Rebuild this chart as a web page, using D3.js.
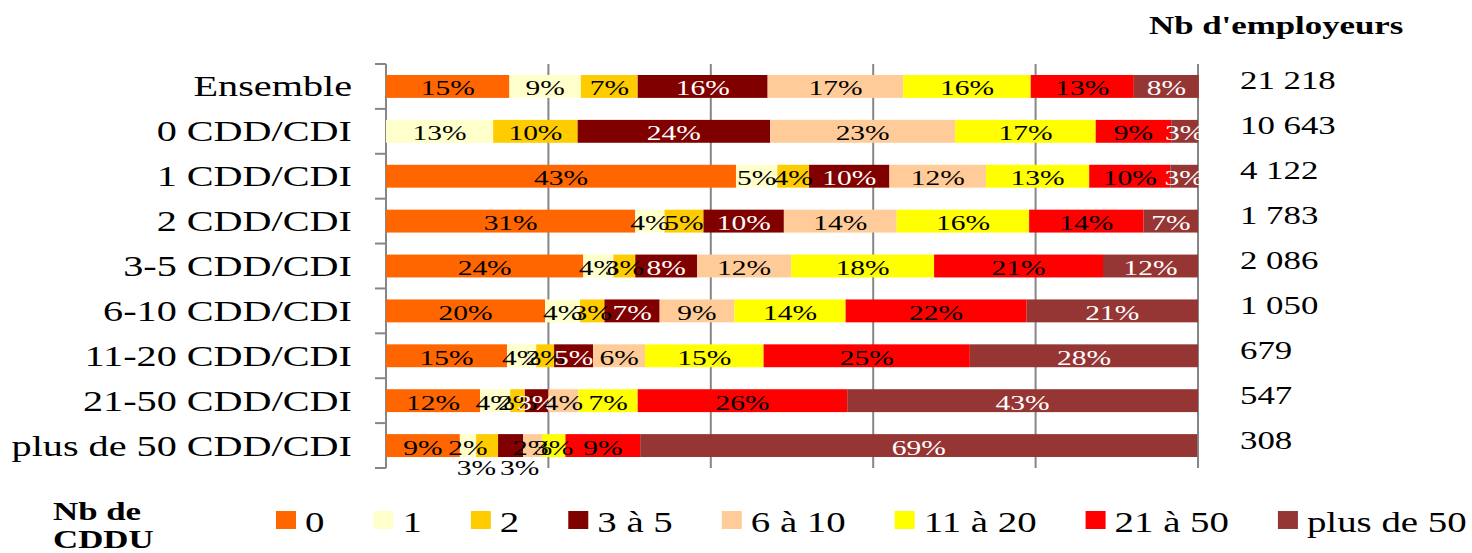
<!DOCTYPE html>
<html>
<head>
<meta charset="utf-8">
<script src="https://cdn.jsdelivr.net/npm/d3@7"></script>
<style>
  body { margin: 0; background: #fff; }
  svg { display: block; font-family: "Liberation Serif", "Times New Roman", serif; }
</style>
</head>
<body>
<div id="chart"></div>
<script>
// categories (rows) and the number of employers per row
const categories = ["Ensemble", "0 CDD/CDI", "1 CDD/CDI", "2 CDD/CDI", "3-5 CDD/CDI",
  "6-10 CDD/CDI", "11-20 CDD/CDI", "21-50 CDD/CDI", "plus de 50 CDD/CDI"];
const employers = ["21 218", "10 643", "4 122", "1 783", "2 086", "1 050", "679", "547", "308"];

// series = Nb de CDDU, shares in % for each row
const seriesNames = ["0", "1", "2", "3 à 5", "6 à 10", "11 à 20", "21 à 50", "plus de 50"];
const s0      = [15.2, 0,    43.1, 30.7, 24.3, 19.6, 14.9, 11.6, 9.1];
const s1      = [8.8,  13.2, 5.1,  3.6,  3.7,  4.3,  3.6,  3.7,  2.0];
const s2      = [7.0,  10.4, 3.9,  4.8,  2.7,  3.0,  2.2,  1.8,  2.7];
const s3to5   = [16.0, 23.7, 9.9,  9.9,  7.6,  6.8,  4.8,  2.9,  3.1];
const s6to10  = [16.7, 22.8, 11.9, 13.9, 11.6, 9.2,  6.4,  3.7,  2.3];
const s11to20 = [15.7, 17.3, 12.7, 16.3, 17.6, 13.7, 14.6, 7.3,  2.9];
const s21to50 = [12.7, 9.3,  10.0, 14.1, 20.8, 22.3, 25.4, 25.8, 9.2];
const sOver50 = [8.0,  3.3,  3.4,  6.7,  11.7, 21.1, 28.1, 43.2, 68.6];
const seriesValues = [s0, s1, s2, s3to5, s6to10, s11to20, s21to50, sOver50];

const colors = ["#FF6600", "#FFFFCC", "#FFCC00", "#800000", "#FFCC99", "#FFFF00", "#FF0000", "#963634"];
const whiteText = ["3 à 5", "plus de 50"];
// labels that sit under the bar in the original: "end" hangs left of the segment's right edge,
// "start" hangs right of the segment's left edge
const labelsBelow = { "plus de 50 CDD/CDI|2": "end", "plus de 50 CDD/CDI|3 à 5": "start" };

const width = 1472, height = 553;
const sx = 1.34; // the original image is stretched horizontally

const svg = d3.select("#chart").append("svg")
  .attr("width", width)
  .attr("height", height);

const rows = categories.map((c, i) => {
  const r = { cat: c };
  seriesNames.forEach((s, j) => r[s] = seriesValues[j][i]);
  return r;
});
const stacked = d3.stack().keys(seriesNames)(rows);

const x = d3.scaleLinear().domain([0, 100]).range([386, 1198]);
const y = d3.scaleBand().domain(categories).range([64, 468])
  .paddingInner(0.49).paddingOuter(0.245);

const color = d3.scaleOrdinal(seriesNames, colors);

function stretch(sel) {
  sel.attr("transform", function () {
    const t = d3.select(this);
    return `translate(${t.attr("data-x")},${t.attr("data-y")}) scale(${sx},1)`;
  });
}

// vertical gridlines
svg.append("g")
  .selectAll("line")
  .data(x.ticks(5).filter(d => d > 0))
  .join("line")
  .attr("x1", d => x(d)).attr("x2", d => x(d))
  .attr("y1", 64).attr("y2", 468)
  .attr("stroke", "#868686")
  .attr("stroke-width", 2);

// category axis with ticks between bands
const axis = svg.append("g");
axis.append("line")
  .attr("x1", x(0)).attr("x2", x(0))
  .attr("y1", 64).attr("y2", 468)
  .attr("stroke", "#868686").attr("stroke-width", 2);
axis.selectAll("line.tick")
  .data(d3.range(categories.length + 1))
  .join("line")
  .attr("class", "tick")
  .attr("x1", x(0) - 11).attr("x2", x(0))
  .attr("y1", i => 64 + i * y.step()).attr("y2", i => 64 + i * y.step())
  .attr("stroke", "#868686").attr("stroke-width", 2);

// bars
svg.append("g")
  .selectAll("g")
  .data(stacked)
  .join("g")
  .attr("fill", d => color(d.key))
  .selectAll("rect")
  .data(d => d)
  .join("rect")
  .attr("x", d => x(d[0]))
  .attr("y", d => y(d.data.cat))
  .attr("width", d => x(d[1]) - x(d[0]))
  .attr("height", y.bandwidth());

// value labels
const labels = [];
stacked.forEach(s => s.forEach(d => {
  const v = d[1] - d[0];
  if (v > 0) labels.push({ key: s.key, cat: d.data.cat, v, x0: d[0], x1: d[1],
    below: labelsBelow[d.data.cat + "|" + s.key] });
}));
svg.append("g")
  .selectAll("text")
  .data(labels)
  .join("text")
  .attr("data-x", d => d.below === "end" ? x(d.x1) - 2 : d.below === "start" ? x(d.x0) + 2 : x((d.x0 + d.x1) / 2))
  .attr("data-y", d => y(d.cat) + y.bandwidth() / 2 + (d.below ? 29 : 9))
  .attr("text-anchor", d => d.below || "middle")
  .attr("font-size", 22)
  .attr("fill", d => (whiteText.includes(d.key) && !d.below) ? "#fff" : "#000")
  .text(d => Math.round(d.v) + "%")
  .call(stretch);

// category labels
svg.append("g")
  .selectAll("text")
  .data(categories)
  .join("text")
  .attr("data-x", 352)
  .attr("data-y", d => y(d) + y.bandwidth() / 2 + 10)
  .attr("text-anchor", "end")
  .attr("font-size", 30)
  .attr("fill", "#000")
  .text(d => d)
  .call(stretch);

// employer counts
svg.append("g")
  .selectAll("text")
  .data(employers)
  .join("text")
  .attr("data-x", 1240)
  .attr("data-y", (d, i) => y(categories[i]) + y.bandwidth() / 2 + 3)
  .attr("font-size", 26)
  .attr("fill", "#000")
  .text(d => d)
  .call(stretch);

svg.append("text")
  .attr("data-x", 1149).attr("data-y", 34)
  .attr("font-size", 26).attr("font-weight", "bold")
  .text("Nb d'employeurs")
  .call(stretch);

// legend
const legTitle = svg.append("g");
legTitle.selectAll("text")
  .data(["Nb de", "CDDU"])
  .join("text")
  .attr("data-x", 53)
  .attr("data-y", (d, i) => 520 + i * 28)
  .attr("font-size", 26).attr("font-weight", "bold")
  .text(d => d)
  .call(stretch);

const legend = svg.append("g");
let lx = 276;
seriesNames.forEach(s => {
  legend.append("rect")
    .attr("x", lx).attr("y", 511)
    .attr("width", 20).attr("height", 18)
    .attr("fill", color(s));
  const t = legend.append("text")
    .attr("data-x", lx + 29).attr("data-y", 532)
    .attr("font-size", 29)
    .text(s)
    .call(stretch);
  lx += 29 + t.node().getComputedTextLength() * sx + 49;
});
</script>
</body>
</html>
